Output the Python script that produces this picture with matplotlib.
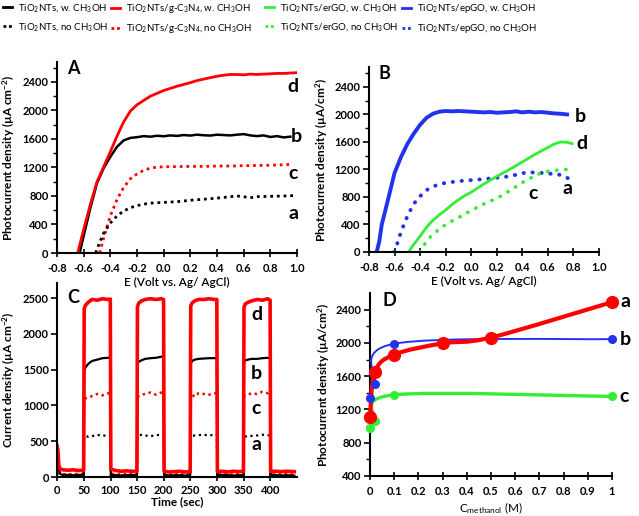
import matplotlib
matplotlib.use("Agg")
import matplotlib.pyplot as plt
from matplotlib.lines import Line2D
from matplotlib.path import Path
from matplotlib.patches import PathPatch
from matplotlib.ticker import MultipleLocator, FixedLocator
import numpy as np

plt.rcParams['font.family'] = ['Lato', 'DejaVu Sans']
plt.rcParams['font.weight'] = 'bold'
plt.rcParams['mathtext.fontset'] = 'custom'
plt.rcParams['mathtext.rm'] = 'Lato'
plt.rcParams['mathtext.bf'] = 'Lato:bold'
plt.rcParams['mathtext.default'] = 'regular'

# ---------------- data ----------------
# Panel A
A_b_E = [-0.63, -0.6, -0.55, -0.5, -0.45, -0.4, -0.35, -0.3, -0.25, -0.2, -0.15, -0.1, -0.05, 0.0,
         0.05, 0.1, 0.15, 0.2, 0.25, 0.3, 0.35, 0.4, 0.45, 0.5, 0.55, 0.6, 0.65, 0.7, 0.75, 0.8,
         0.85, 0.9, 0.95]
A_b_J = [0, 240, 630, 980, 1190, 1350, 1490, 1580, 1615, 1625, 1640, 1632, 1645, 1638, 1650, 1643,
         1655, 1648, 1660, 1652, 1648, 1660, 1655, 1650, 1660, 1668, 1650, 1640, 1650, 1628, 1640,
         1622, 1632]
A_d_E = [-0.645, -0.6, -0.55, -0.5, -0.45, -0.4, -0.35, -0.3, -0.25, -0.2, -0.15, -0.1, -0.05, 0.0,
         0.05, 0.1, 0.15, 0.2, 0.25, 0.3, 0.35, 0.4, 0.45, 0.5, 0.55, 0.6, 0.65, 0.7, 0.75, 0.8,
         0.85, 0.9, 0.95, 1.0]
A_d_J = [0, 330, 680, 1000, 1210, 1420, 1640, 1840, 1990, 2080, 2140, 2200, 2240, 2280, 2310, 2340,
         2365, 2390, 2420, 2440, 2460, 2480, 2495, 2505, 2505, 2500, 2510, 2505, 2510, 2515, 2520,
         2520, 2525, 2530]
A_c_E = [-0.48, -0.45, -0.4, -0.35, -0.3, -0.25, -0.2, -0.15, -0.1, -0.05, 0.0, 0.1, 0.2, 0.3, 0.4,
         0.5, 0.6, 0.7, 0.8, 0.9, 0.97]
A_c_J = [0, 210, 520, 750, 920, 1040, 1110, 1160, 1190, 1205, 1210, 1212, 1215, 1215, 1220, 1220,
         1225, 1228, 1232, 1238, 1245]
A_a_E = [-0.51, -0.48, -0.45, -0.4, -0.35, -0.3, -0.25, -0.2, -0.15, -0.1, 0.0, 0.1, 0.2, 0.3, 0.4,
         0.5, 0.55, 0.6, 0.65, 0.7, 0.8, 0.9, 0.97]
A_a_J = [0, 150, 280, 420, 520, 590, 635, 665, 685, 700, 710, 720, 740, 755, 770, 790, 800, 790,
         775, 790, 795, 800, 805]

# Panel B
B_b_E = [-0.74, -0.72, -0.7, -0.65, -0.6, -0.55, -0.5, -0.45, -0.4, -0.35, -0.3, -0.25, -0.2, -0.15,
         -0.1, -0.05, 0.0, 0.05, 0.1, 0.15, 0.2, 0.25, 0.3, 0.35, 0.4, 0.45, 0.5, 0.55, 0.6, 0.65,
         0.7, 0.75]
B_b_J = [0, 150, 400, 770, 1150, 1380, 1570, 1720, 1850, 1950, 2010, 2040, 2050, 2045, 2050, 2045,
         2040, 2035, 2030, 2035, 2025, 2030, 2035, 2045, 2030, 2040, 2030, 2035, 2025, 2015, 2010, 2000]
B_a_E = [-0.6, -0.55, -0.5, -0.45, -0.4, -0.35, -0.3, -0.25, -0.2, -0.1, 0.0, 0.1, 0.2, 0.3, 0.4,
         0.45, 0.5, 0.55, 0.6, 0.65, 0.7, 0.75, 0.77]
B_a_J = [0, 290, 520, 700, 810, 900, 950, 985, 1005, 1030, 1045, 1060, 1080, 1100, 1145, 1160,
         1155, 1150, 1140, 1135, 1120, 1080, 1060]
B_d_E = [-0.49, -0.45, -0.4, -0.35, -0.3, -0.25, -0.2, -0.15, -0.1, -0.05, 0.0, 0.1, 0.2, 0.3, 0.4,
         0.5, 0.6, 0.65, 0.7, 0.75, 0.79]
B_d_J = [0, 110, 230, 360, 460, 540, 610, 690, 760, 820, 870, 990, 1100, 1200, 1310, 1420, 1520,
         1570, 1600, 1595, 1575]
B_c_E = [-0.40, -0.35, -0.3, -0.25, -0.2, -0.1, 0.0, 0.1, 0.2, 0.3, 0.4, 0.5, 0.55, 0.6, 0.65, 0.7,
         0.75]
B_c_J = [0, 160, 260, 330, 400, 500, 605, 700, 780, 890, 1010, 1110, 1150, 1170, 1185, 1195, 1200]

# Panel C (chopped light)
C_t = [0, 1, 3, 6, 10, 20, 30, 40, 49.5,
       50.5, 53, 58, 65, 75, 85, 95, 99.5,
       100.5, 110, 120, 130, 140, 149.5,
       150.5, 153, 158, 165, 175, 185, 195, 199.5,
       200.5, 210, 220, 230, 240, 249.5,
       250.5, 253, 258, 265, 275, 285, 295, 299.5,
       300.5, 310, 320, 330, 340, 349.5,
       350.5, 353, 358, 365, 375, 385, 395, 399.5,
       400.5, 410, 420, 430, 445]
C_d = [420, 380, 150, 110, 100, 95, 100, 90, 95,
       2350, 2400, 2440, 2480, 2470, 2490, 2480, 2485,
       110, 90, 80, 85, 80, 80,
       2380, 2430, 2460, 2480, 2490, 2480, 2490, 2480,
       80, 70, 75, 80, 70, 75,
       2390, 2430, 2460, 2480, 2480, 2490, 2480, 2480,
       75, 80, 70, 80, 75, 80,
       2370, 2420, 2440, 2460, 2480, 2470, 2490, 2470,
       80, 80, 75, 80, 75]
C_b = [450, 420, 100, 40, 30, 30, 25, 30, 30,
       1480, 1530, 1580, 1620, 1640, 1660, 1665, 1670,
       30, 25, 20, 25, 30, 25,
       1590, 1610, 1630, 1650, 1660, 1665, 1680, 1690,
       30, 20, 25, 25, 20, 25,
       1580, 1620, 1640, 1650, 1655, 1660, 1660, 1660,
       25, 30, 25, 20, 25, 25,
       1600, 1630, 1640, 1650, 1650, 1660, 1665, 1660,
       30, 25, 20, 25, 20]
C_c = [60, 55, 50, 45, 40, 35, 45, 40, 40,
       1080, 1100, 1110, 1130, 1160, 1140, 1170, 1160,
       45, 40, 35, 40, 40, 45,
       1120, 1130, 1150, 1160, 1180, 1150, 1180, 1170,
       40, 35, 40, 40, 35, 40,
       1140, 1150, 1120, 1170, 1160, 1150, 1170, 1160,
       40, 45, 40, 35, 40, 40,
       1120, 1140, 1150, 1170, 1160, 1190, 1170, 1200,
       40, 35, 40, 45, 40]
C_a = [60, 50, 30, 25, 20, 25, 20, 25, 20,
       560, 580, 560, 570, 590, 575, 585, 590,
       20, 25, 20, 15, 20, 20,
       560, 575, 590, 580, 570, 585, 590, 580,
       20, 15, 20, 25, 20, 20,
       580, 575, 580, 585, 590, 580, 590, 595,
       20, 25, 20, 15, 20, 20,
       585, 570, 560, 575, 580, 590, 585, 580,
       20, 25, 20, 15, 20]

# Panel D (methanol concentration)
D_a_x = [0, 0.02, 0.1, 0.3, 0.5, 1.0]
D_a_y = [1110, 1650, 1860, 1995, 2065, 2490]
D_b_x = [0, 0.02, 0.1, 1.0]
D_b_y = [1336, 1508, 1990, 2046]
D_c_x = [0, 0.02, 0.1, 1.0]
D_c_y = [974, 1063, 1376, 1356]

legend_labels = [
    ("TiO$_2$NTs, w. CH$_3$OH", "TiO$_2$NTs, no CH$_3$OH", 'black'),
    ("TiO$_2$NTs/g-C$_3$N$_4$, w. CH$_3$OH", "TiO$_2$NTs/g-C$_3$N$_4$, no CH$_3$OH", '#ff0000'),
    ("TiO$_2$NTs/erGO, w. CH$_3$OH", "TiO$_2$NTs/erGO, no CH$_3$OH", '#33ee33'),
    ("TiO$_2$NTs/epGO, w. CH$_3$OH", "TiO$_2$NTs/epGO, no CH$_3$OH", '#2233ee'),
]
legend_x = [3, 111, 265, 402]

RED = '#ff0000'
BLUE = '#2233ee'
GREEN = '#33ee33'

W, H = 639, 516
fig = plt.figure(figsize=(W / 100, H / 100), dpi=100)


def box(l, r, t, b):
    return [l / W, 1 - b / H, (r - l) / W, (b - t) / H]


def style(ax):
    ax.patch.set_alpha(0)
    for s in ['top', 'right']:
        ax.spines[s].set_visible(False)
    for s in ['left', 'bottom']:
        ax.spines[s].set_linewidth(1.5)
        ax.spines[s].set_color('black')
    ax.tick_params(axis='both', which='major', labelsize=8, width=1.2, color='black')
    ax.tick_params(axis='x', which='major', direction='inout', length=6, pad=4)
    ax.tick_params(axis='y', which='major', direction='out', length=4, pad=2)
    ax.tick_params(axis='y', which='minor', direction='out', length=3, width=1)


DOT = (0, (1, 1.4))
RDOT = dict(dash_capstyle='round')

# ---------------- Panel A ----------------
axA = fig.add_axes(box(57, 297, 62, 253))
axA.plot(A_b_E, A_b_J, color='black', lw=1.8)
axA.plot(A_d_E, A_d_J, color=RED, lw=2.0)
axA.plot(A_c_E, A_c_J, color=RED, lw=2.0, linestyle=DOT)
axA.plot(A_a_E, A_a_J, color='black', lw=2.0, linestyle=DOT)
axA.set_xlim(-0.8, 1.0)
axA.set_ylim(0, 2680)
axA.xaxis.set_major_locator(MultipleLocator(0.2))
axA.yaxis.set_major_locator(FixedLocator([0, 400, 800, 1200, 1600, 2000, 2400]))
axA.yaxis.set_minor_locator(FixedLocator([200, 600, 1000, 1400, 1800, 2200, 2600]))
axA.xaxis.set_major_formatter(matplotlib.ticker.FormatStrFormatter('%.1f'))
style(axA)
axA.set_xlabel("E (Volt vs. Ag/ AgCl)", fontsize=8.5, fontweight='semibold', labelpad=2)
axA.set_ylabel("Photocurrent density (µA cm$^{-2}$)", fontsize=8.5, fontweight='bold', labelpad=4)
for s, e, j in [('d', 0.97, 2330), ('b', 0.995, 1640), ('c', 0.97, 1120), ('a', 0.975, 560)]:
    axA.text(e, j, s, fontsize=14, fontweight='bold', ha='center', va='center')

# ---------------- Panel B ----------------
axB = fig.add_axes(box(369, 599, 67, 252))
axB.plot(B_b_E, B_b_J, color=BLUE, lw=2.8)
axB.plot(B_a_E, B_a_J, color=BLUE, lw=2.8, linestyle=(0, (0.1, 2.2)), **RDOT)
axB.plot(B_d_E, B_d_J, color=GREEN, lw=2.0)
axB.plot(B_c_E, B_c_J, color=GREEN, lw=2.6, linestyle=(0, (0.1, 2.4)), **RDOT)
axB.set_xlim(-0.8, 1.0)
axB.set_ylim(0, 2690)
axB.xaxis.set_major_locator(MultipleLocator(0.2))
axB.yaxis.set_major_locator(FixedLocator([0, 400, 800, 1200, 1600, 2000, 2400]))
axB.yaxis.set_minor_locator(FixedLocator([200, 600, 1000, 1400, 1800, 2200, 2600]))
axB.xaxis.set_major_formatter(matplotlib.ticker.FormatStrFormatter('%.1f'))
style(axB)
axB.set_xlabel("E (Volt vs. Ag/ AgCl)", fontsize=8.5, fontweight='semibold', labelpad=2)
axB.set_ylabel("Photocurrent density (µA/cm$^2$)", fontsize=8.5, fontweight='bold', labelpad=3)
for s, e, j in [('b', 0.85, 1975), ('d', 0.865, 1580), ('c', 0.484, 855), ('a', 0.757, 925)]:
    axB.text(e, j, s, fontsize=14, fontweight='bold', ha='center', va='center')

# ---------------- Panel C ----------------
axC = fig.add_axes(box(57.3, 297, 283, 477))
axC.plot(C_t, C_a, color='black', lw=1.6, linestyle=(0, (1, 1.6)))
axC.plot(C_t, C_c, color=RED, lw=1.8, linestyle=(0, (1, 1.4)))
axC.plot(C_t, C_b, color='black', lw=1.6)
axC.plot(C_t, C_d, color=RED, lw=2.6)
axC.set_xlim(0, 450)
axC.set_ylim(0, 2710)
axC.xaxis.set_major_locator(FixedLocator([0, 50, 100, 150, 200, 250, 300, 350, 400]))
axC.yaxis.set_major_locator(FixedLocator([0, 500, 1000, 1500, 2000, 2500]))
style(axC)
axC.tick_params(axis='x', which='major', pad=3)
axC.set_xlabel("Time (sec)", fontsize=8.5, fontweight='bold', labelpad=0)
axC.set_ylabel("Current density (µA cm$^{-2}$)", fontsize=8.5, fontweight='bold', labelpad=4)
for s, t, j in [('d', 374, 2270), ('b', 374, 1450), ('c', 374, 960), ('a', 374, 460)]:
    axC.text(t, j, s, fontsize=14, fontweight='bold', ha='center', va='center')

# ---------------- Panel D ----------------
axD = fig.add_axes(box(370, 612, 293, 476))


def smooth(ax, xs, ys, **kw):
    # Excel-style smoothed connector through the data points (Catmull-Rom -> Bezier)
    pts = list(zip(xs, ys))
    verts = [pts[0]]
    codes = [Path.MOVETO]
    for i in range(len(pts) - 1):
        p0 = pts[i - 1] if i > 0 else pts[i]
        p1 = pts[i]
        p2 = pts[i + 1]
        p3 = pts[i + 2] if i + 2 < len(pts) else pts[i + 1]
        c1 = (p1[0] + (p2[0] - p0[0]) / 6, p1[1] + (p2[1] - p0[1]) / 6)
        c2 = (p2[0] - (p3[0] - p1[0]) / 6, p2[1] - (p3[1] - p1[1]) / 6)
        verts += [c1, c2, p2]
        codes += [Path.CURVE4] * 3
    ax.add_patch(PathPatch(Path(verts, codes), fill=False, clip_on=False, **kw))


smooth(axD, D_c_x, D_c_y, edgecolor=GREEN, lw=2.4, zorder=2)
smooth(axD, D_b_x, D_b_y, edgecolor=BLUE, lw=1.4, zorder=3)
smooth(axD, D_a_x, D_a_y, edgecolor=RED, lw=3.0, zorder=4)
axD.plot(D_c_x, D_c_y, 'o', color=GREEN, ms=5.5, clip_on=False, zorder=5)
axD.plot(D_b_x, D_b_y, 'o', color=BLUE, ms=5.5, clip_on=False, zorder=5)
axD.plot(D_a_x, D_a_y, 'o', color=RED, ms=8.5, clip_on=False, zorder=6)
axD.set_xlim(0, 1)
axD.set_ylim(400, 2600)
axD.xaxis.set_major_locator(FixedLocator([0, 0.1, 0.2, 0.3, 0.4, 0.5, 0.6, 0.7, 0.8, 0.9, 1.0]))
axD.xaxis.set_major_formatter(matplotlib.ticker.FuncFormatter(lambda v, p: '%g' % round(v, 1)))
axD.yaxis.set_major_locator(FixedLocator([400, 800, 1200, 1600, 2000, 2400]))
axD.yaxis.set_minor_locator(FixedLocator([600, 1000, 1400, 1800, 2200]))
style(axD)
axD.set_xlabel("C$_{methanol}$ (M)", fontsize=8.5, fontweight='normal', labelpad=3)
axD.set_ylabel("Photocurrent density (µA/cm$^2$)", fontsize=8.5, fontweight='bold', labelpad=3)
for s, x, j in [('a', 1.056, 2500), ('b', 1.053, 2046), ('c', 1.05, 1356)]:
    axD.text(x, j, s, fontsize=14, fontweight='bold', ha='center', va='center', clip_on=False)

# ---------------- panel letters ----------------
for s, x, y in [('A', 67, 60), ('B', 378, 65), ('C', 67, 289), ('D', 382, 292)]:
    fig.text(x / W, 1 - y / H, s, fontsize=13, fontweight='bold', ha='left', va='top')

# ---------------- legend ----------------
for (l1, l2, col), x in zip(legend_labels, legend_x):
    hs = [Line2D([], [], color=col, lw=2),
          Line2D([], [], color=col, lw=2, linestyle=(0, (1, 1)))]
    fig.legend(hs, [l1, l2], loc='upper left', bbox_to_anchor=(x / W, 1 - 2 / H),
               frameon=False, prop={'size': 7.0, 'weight': 'normal'}, handlelength=0.9,
               handletextpad=0.6, labelspacing=0.75, borderaxespad=0, borderpad=0)

fig.savefig("out.png", dpi=100)
